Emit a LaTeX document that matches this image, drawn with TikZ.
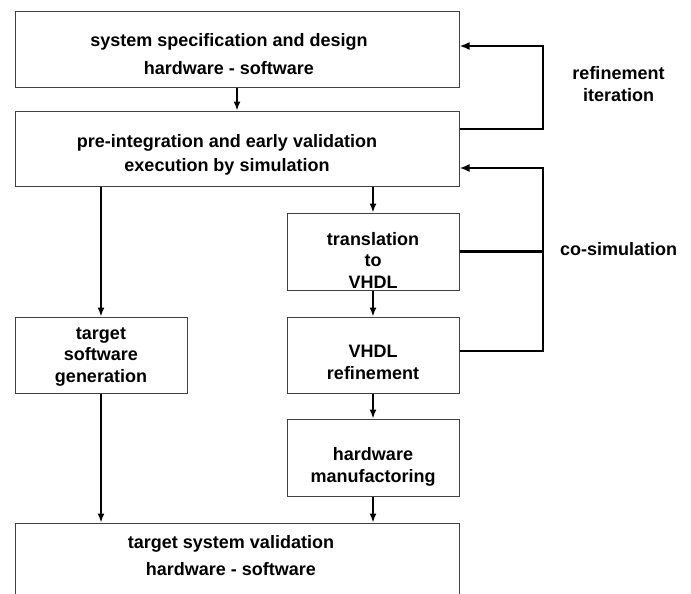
\documentclass[tikz,border=0pt]{standalone}
\usepackage{fontspec}
\setmainfont{Liberation Sans}
\usetikzlibrary{arrows.meta,calc}

\begin{document}
\begin{tikzpicture}[x=1pt,y=-1pt,
  box/.style={draw=black!75, line width=1pt, rectangle, inner sep=0pt},
  txt/.style={align=center, inner sep=0pt, font=\bfseries\fontsize{18}{22}\selectfont},
  flow/.style={line width=1.5pt, -{Latex[length=9pt,width=7pt]}},
  loopline/.style={line width=2.4pt},
  looparrow/.style={loopline, -{Latex[length=10pt,width=8pt]}}]

\useasboundingbox (0,0) rectangle (691,594);
\clip (0,0) rectangle (691,594);

% process boxes (geometry only; texts are placed separately)
\node[box, minimum width=444pt, minimum height=76pt]  (spec)   at (237,50)    {};
\node[box, minimum width=444pt, minimum height=75pt]  (pre)    at (237,148.5) {};
\node[box, minimum width=172pt, minimum height=77pt]  (trans)  at (373,251.5) {};
\node[box, minimum width=172pt, minimum height=76pt]  (vref)   at (373,355)   {};
\node[box, minimum width=172pt, minimum height=77pt]  (hwman)  at (373,457.5) {};
\node[box, minimum width=172pt, minimum height=76pt]  (tsw)    at (101,355)   {};
\node[box, minimum width=444pt, minimum height=120pt] (valid)  at (237,583)   {};

% box texts
\node[txt, font=\bfseries\fontsize{18}{28}\selectfont] (spectxt) at (229,54)
  {system specification and design\\hardware - software};
\node[txt, font=\bfseries\fontsize{18}{24}\selectfont] (pretxt) at (227,155.3)
  {pre-integration and early validation\\execution by simulation};
\node[txt, font=\bfseries\fontsize{18}{21.5}\selectfont] (transtxt) at (373,260)
  {translation\\to\\VHDL};
\node[txt] (vreftxt) at (373,362) {VHDL\\refinement};
\node[txt] (hwmantxt) at (373,467) {hardware\\manufactoring};
\node[txt, font=\bfseries\fontsize{18}{21.5}\selectfont] (tswtxt) at (101,357)
  {target\\software\\generation};
\node[txt, font=\bfseries\fontsize{18}{27}\selectfont] (validtxt) at (231,556)
  {target system validation\\hardware - software};

% side labels
\node[txt] (reflabel) at (618.5,84.5) {refinement\\iteration};
\node[txt] (colabel)  at (618.5,249)  {co-simulation};

% main flow
\draw[flow] (spec.south) -- (pre.north);
\draw[flow] (pre.south -| trans.north) -- (trans.north);
\draw[flow] (pre.south -| tsw.north) -- (tsw.north);
\draw[flow] (trans.south) -- (vref.north);
\draw[flow] (vref.south) -- (hwman.north);
\draw[flow] (hwman.south) -- (valid.north -| hwman.south);
\draw[flow] (tsw.south) -- (valid.north -| tsw.south);

% feedback loops
\coordinate (rx)   at (543,0);
\coordinate (rin)  at ($(spec.east)+(0,-4)$);
\coordinate (rout) at ($(pre.east)+(0,-19.5)$);
\coordinate (cin)  at ($(pre.east)+(0,19.5)$);
\coordinate (vout) at ($(vref.east)+(0,-4)$);

\draw[looparrow] (rout) -- (rout -| rx) |- (rin);
\draw[loopline] (trans.east) -- (trans.east -| rx);
\draw[looparrow] (vout) -- (vout -| rx) |- (cin);

\end{tikzpicture}
\end{document}
